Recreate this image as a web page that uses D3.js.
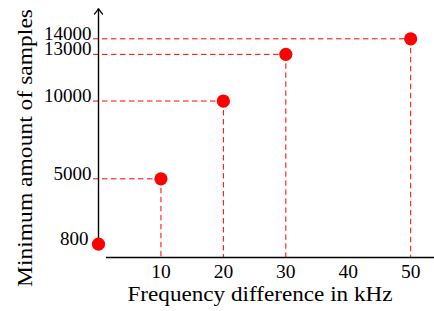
<!DOCTYPE html>
<html>
<head>
<meta charset="utf-8">
<script src="https://cdn.jsdelivr.net/npm/d3@7"></script>
<style>
  body { margin: 0; background: #fff; }
  text { font-family: 'Liberation Serif', 'DejaVu Serif', serif; fill: #000; }
</style>
</head>
<body>
<script>
var width = 434;
var height = 311;

// data
var freqs = [0, 10, 20, 30, 50];            // kHz
var samples = [800, 5000, 10000, 13000, 14000];
var xTicks = [10, 20, 30, 40, 50];
var yTicks = [800, 5000, 10000, 13000, 14000];

var points = freqs.map((f, i) => ({f: f, s: samples[i]}));

var svg = d3.select('body').append('svg')
    .attr('width', width)
    .attr('height', height)

var x = d3.scaleLinear().domain([0, 50]).range([98.5, 410.7]);
var y = d3.scaleLinear().domain([0, 14000]).range([256.6, 38.8]);

var red = '#ff0000';
var fs = 19.5;

// dashed guide lines
var guides = svg.append('g')
    .attr('stroke', red)
    .attr('stroke-width', 1)
    .attr('stroke-dasharray', '5.5,3.5')
    .attr('fill', 'none')

guides.selectAll('line.h')
    .data(points.filter(d => d.f > 0)).enter()
    .append('line')
        .attr('class', 'h')
        .attr('x1', 93)
        .attr('x2', d => x(d.f))
        .attr('y1', d => y(d.s))
        .attr('y2', d => y(d.s))

guides.selectAll('line.v')
    .data(points.filter(d => d.f > 0)).enter()
    .append('line')
        .attr('class', 'v')
        .attr('x1', d => x(d.f))
        .attr('x2', d => x(d.f))
        .attr('y1', d => y(d.s))
        .attr('y2', y(0) + 1.5)

// axes
svg.append('line')
    .attr('x1', 106).attr('x2', width)
    .attr('y1', y(0) + 0.8).attr('y2', y(0) + 0.8)
    .attr('stroke', '#000').attr('stroke-width', 1.5)

svg.append('line')
    .attr('x1', x(0)).attr('x2', x(0))
    .attr('y1', y(0) - 8).attr('y2', 8.5)
    .attr('stroke', '#000').attr('stroke-width', 1.4)

// arrow head of the y axis
svg.append('path')
    .attr('d', d3.line().curve(d3.curveBasis)([[x(0) - 4, 14], [x(0) - 1, 10.5], [x(0), 8], [x(0) + 1, 10.5], [x(0) + 4, 14]]))
    .attr('fill', 'none')
    .attr('stroke', '#000')
    .attr('stroke-width', 1.3)
    .attr('stroke-linecap', 'round')

// tick labels
svg.append('g').selectAll('text')
    .data(xTicks).enter()
    .append('text')
        .attr('x', d => x(d))
        .attr('y', 277.5)
        .attr('text-anchor', 'middle')
        .attr('font-size', fs)
        .text(d => d)

svg.append('g').selectAll('text')
    .data(yTicks).enter()
    .append('text')
        .attr('x', d => d < 1000 ? 88.5 : 91.5)
        .attr('y', d => y(d) + 1)
        .attr('text-anchor', 'end')
        .attr('font-size', 19)
        .text(d => d)

// axis titles (CM is wider than Times, so stretch to the reference length)
svg.append('text')
    .attr('x', 127.5)
    .attr('y', 301)
    .attr('font-size', 20.5)
    .attr('textLength', 265)
    .attr('lengthAdjust', 'spacingAndGlyphs')
    .text('Frequency difference in kHz')

svg.append('text')
    .attr('transform', 'translate(31.5,287) rotate(-90)')
    .attr('font-size', 20.5)
    .attr('textLength', 278)
    .attr('lengthAdjust', 'spacingAndGlyphs')
    .text('Minimum amount of samples')

// points
svg.append('g').selectAll('circle')
    .data(points).enter()
    .append('circle')
        .attr('cx', d => x(d.f))
        .attr('cy', d => y(d.s))
        .attr('r', 6.6)
        .attr('fill', red)
</script>
</body>
</html>
